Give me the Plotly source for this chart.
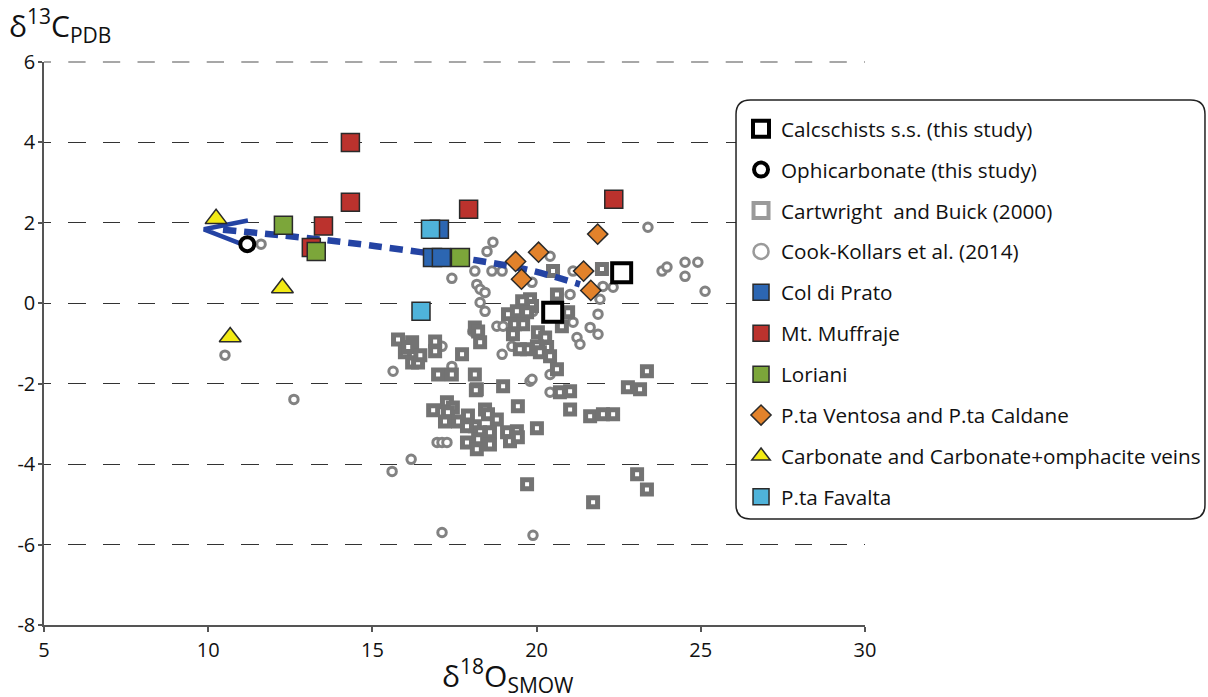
import plotly.graph_objects as go

# ---- data: delta18O (SMOW) and delta13C (PDB) ----
calc_x = [20.49, 22.59]
calc_y = [-0.22, 0.76]

ophi_x = [11.19]
ophi_y = [1.47]

cart_x = [20.50, 21.99, 20.62, 19.80, 19.56, 19.86, 19.13, 19.40, 19.71, 19.34,
          19.59, 19.28, 18.12, 18.22, 18.28, 15.78, 16.21, 16.91, 16.91, 17.73,
          15.99, 16.21, 16.39, 17.00, 17.42, 18.12, 18.18, 18.98, 20.04, 20.26,
          20.01, 20.32, 20.10, 20.41, 19.71, 19.49, 20.62, 21.02, 22.78, 23.15,
          23.36, 20.96, 20.77, 20.71, 16.85, 17.27, 17.45, 17.30, 17.21, 17.61,
          17.91, 19.43, 18.43, 18.52, 18.79, 18.12, 17.88, 18.28, 18.58, 19.10,
          19.40, 20.01, 17.88, 18.22, 18.18, 18.58, 19.19, 19.43, 19.71, 21.02,
          21.63, 22.02, 22.33, 23.06, 23.36, 21.72, 18.15, 16.09, 16.46]
cart_y = [0.80, 0.85, 0.22, 0.10, 0.05, -0.07, -0.27, -0.20, -0.22, -0.52,
          -0.52, -0.77, -0.60, -0.70, -0.97, -0.90, -0.97, -0.95, -1.19, -1.27,
          -1.22, -1.47, -1.47, -1.77, -1.77, -1.77, -2.14, -2.06, -0.72, -0.85,
          -1.07, -1.09, -1.22, -1.32, -1.14, -1.14, -1.64, -2.19, -2.09, -2.14,
          -1.69, -0.22, -0.57, -2.21, -2.66, -2.46, -2.59, -2.71, -2.94, -2.94,
          -2.79, -2.56, -2.64, -2.76, -2.89, -3.06, -3.06, -3.21, -3.21, -3.21,
          -3.18, -3.11, -3.46, -3.38, -3.63, -3.51, -3.43, -3.33, -4.50, -2.64,
          -2.81, -2.76, -2.76, -4.25, -4.63, -4.95, -2.16, -1.09, -1.29]

cook_x = [11.61, 10.51, 12.61, 15.63, 15.60, 16.18, 17.12, 19.89, 16.97, 17.12,
          17.27, 20.41, 19.80, 18.67, 18.49, 17.42, 18.12, 18.64, 18.95, 18.18,
          18.28, 18.43, 18.28, 18.43, 20.41, 19.86, 21.11, 21.02, 22.02, 22.33,
          21.93, 23.39, 23.82, 23.97, 24.52, 24.91, 24.52, 25.13, 21.11, 21.87,
          21.63, 21.87, 21.23, 21.32, 18.79, 18.98, 19.25, 18.06, 18.95, 19.25,
          19.86, 20.41, 17.42, 17.12, 19.89]
cook_y = [1.47, -1.29, -2.39, -1.69, -4.18, -3.88, -5.70, -5.77, -3.46, -3.46,
          -3.46, -2.21, -1.94, 1.52, 1.29, 0.62, 0.80, 0.80, 0.80, 0.47,
          0.35, 0.27, 0.02, -0.20, 1.17, 0.52, 0.80, 0.22, 0.42, 0.40,
          0.10, 1.89, 0.80, 0.90, 1.02, 1.02, 0.67, 0.30, -0.47, -0.27,
          -0.60, -0.77, -0.85, -1.02, -0.57, -0.57, -0.60, -0.70, -1.27, -1.07,
          -1.89, -1.77, -1.57, -1.07, -0.20]

prato_x = [17.04, 16.83, 17.10]
prato_y = [1.84, 1.14, 1.14]

muff_x = [14.33, 14.33, 13.51, 13.14, 17.93, 22.35]
muff_y = [4.00, 2.51, 1.92, 1.39, 2.34, 2.59]

lori_x = [12.29, 13.29, 17.68]
lori_y = [1.94, 1.29, 1.14]

vent_x = [19.36, 20.06, 19.54, 21.86, 21.43, 21.65]
vent_y = [1.04, 1.27, 0.60, 1.72, 0.80, 0.32]

vein_x = [10.24, 12.26, 10.67]
vein_y = [2.10, 0.38, -0.84]

fav_x = [16.77, 16.48]
fav_y = [1.84, -0.20]

# trend (dashed) and arrow head
trend_x = [10.45, 12.80, 15.11, 18.15, 19.80, 21.32]
trend_y = [1.83, 1.64, 1.42, 1.07, 0.82, 0.47]
arrow_x = [11.21, 9.87, 11.12]
arrow_y = [2.06, 1.84, 1.44]

x_ticks = [5, 10, 15, 20, 25, 30]
y_ticks = [-8, -6, -4, -2, 0, 2, 4, 6]
y_ticktext = ["-8", "-6", "-4", "-2", "0", "2", "4", "6"]

FONT = "Open Sans"
TXT = "#111111"
EDGE = "#2a2a2a"
GRID_DASH = "7px,17.3px,10.3px,0px"

fig = go.Figure()

# reference datasets (gray)
fig.add_trace(go.Scatter(
    x=cook_x, y=cook_y, mode="markers", name="Cook-Kollars et al. (2014)",
    legendgroup="g04", showlegend=False,
    marker=dict(symbol="circle", size=8.5, color="white",
                line=dict(color="#828282", width=3))))
fig.add_trace(go.Scatter(
    x=cart_x, y=cart_y, mode="markers", name="Cartwright  and Buick (2000)",
    legendgroup="g03", showlegend=False,
    marker=dict(symbol="square", size=9, color="white",
                line=dict(color="#737373", width=5))))

# trend line with arrow head
fig.add_trace(go.Scatter(
    x=trend_x, y=trend_y, mode="lines", showlegend=False, hoverinfo="skip",
    line=dict(color="#2443a3", width=6.5, dash="13px,8px", shape="spline")))
fig.add_trace(go.Scatter(
    x=arrow_x, y=arrow_y, mode="lines", showlegend=False, hoverinfo="skip",
    line=dict(color="#2443a3", width=4.5)))

def colored(xs, ys, name, rank, symbol, size, color):
    fig.add_trace(go.Scatter(
        x=xs, y=ys, mode="markers", name=name, legendgroup=f"g{rank:02d}",
        legendrank=rank,
        marker=dict(symbol=symbol, size=size, color=color,
                    line=dict(color=EDGE, width=1.5))))

colored(muff_x, muff_y, "Mt. Muffraje", 6, "square", 18, "#bb322d")
colored(lori_x, lori_y, "Loriani", 7, "square", 18, "#7ca63a")
colored(prato_x, prato_y, "Col di Prato", 5, "square", 18, "#2c66b2")
colored(fav_x, fav_y, "P.ta Favalta", 10, "square", 18, "#4fb3da")
colored(vent_x, vent_y, "P.ta Ventosa and P.ta Caldane", 8, "diamond", 15.5, "#e2822b")
colored(vein_x, vein_y, "Carbonate and Carbonate+omphacite veins", 9,
        "triangle-up", 19, "#f2ea15")

# this study
fig.add_trace(go.Scatter(
    x=calc_x, y=calc_y, mode="markers", name="Calcschists s.s. (this study)",
    legendgroup="g01", legendrank=1,
    marker=dict(symbol="square", size=19, color="white",
                line=dict(color="black", width=4))))
fig.add_trace(go.Scatter(
    x=ophi_x, y=ophi_y, mode="markers", name="Ophicarbonate (this study)",
    legendgroup="g02", legendrank=2,
    marker=dict(symbol="circle", size=14, color="white",
                line=dict(color="black", width=4))))

# legend entries for the gray datasets
fig.add_trace(go.Scatter(
    x=[None], y=[None], mode="markers", name="Cartwright  and Buick (2000)",
    legendgroup="g03", legendrank=3,
    marker=dict(symbol="square", size=15, color="white",
                line=dict(color="#9a9a9a", width=4))))
fig.add_trace(go.Scatter(
    x=[None], y=[None], mode="markers", name="Cook-Kollars et al. (2014)",
    legendgroup="g04", legendrank=4,
    marker=dict(symbol="circle", size=15, color="white",
                line=dict(color="#9a9a9a", width=2.5))))

# dashed gridline along the top edge of the plot area
fig.add_shape(type="line", xref="paper", yref="paper", x0=0, x1=1, y0=1, y1=1,
              line=dict(color="#8a8a8a", width=1.6, dash=GRID_DASH),
              layer="below")

# rounded legend frame (paper coordinates)
x0, x1 = 0.8429, 1.4141
y0, y1 = 0.1883, 0.9325
rx, ry = 0.0175, 0.0255
frame = (f"M{x0+rx},{y1} L{x1-rx},{y1} Q{x1},{y1} {x1},{y1-ry} "
         f"L{x1},{y0+ry} Q{x1},{y0} {x1-rx},{y0} L{x0+rx},{y0} "
         f"Q{x0},{y0} {x0},{y0+ry} L{x0},{y1-ry} Q{x0},{y1} {x0+rx},{y1} Z")
fig.add_shape(type="path", path=frame, xref="paper", yref="paper",
              fillcolor="white", line=dict(color="#222222", width=1.5),
              layer="above")

fig.add_annotation(text="δ<sup>13</sup>C<sub>PDB</sub>", xref="paper", yref="paper",
                   x=-0.045, y=1.11, xanchor="left", yanchor="top",
                   showarrow=False, font=dict(family=FONT, size=30, color=TXT))
fig.add_annotation(text="δ<sup>18</sup>O<sub>SMOW</sub>", xref="paper", yref="paper",
                   x=0.565, y=-0.045, xanchor="center", yanchor="top",
                   showarrow=False, font=dict(family=FONT, size=30, color=TXT))

fig.update_layout(
    width=1208, height=697,
    margin=dict(l=44, r=343, t=62, b=72, autoexpand=False),
    paper_bgcolor="white", plot_bgcolor="white",
    font=dict(family=FONT, color=TXT),
    showlegend=True,
    legend=dict(x=0.849, y=0.917, xanchor="left", yanchor="top",
                bgcolor="rgba(0,0,0,0)", borderwidth=0,
                font=dict(family=FONT, size=20.7, color=TXT),
                tracegroupgap=11, traceorder="grouped",
                itemsizing="trace"),
    xaxis=dict(range=[5, 30], tickvals=x_ticks, showgrid=False, zeroline=False,
               automargin=False,
               showline=True, linecolor="#555555", linewidth=1.5,
               ticks="outside", ticklen=5, tickcolor="#555555", tickwidth=1.5,
               tickfont=dict(family=FONT, size=20, color=TXT),
               ticklabelstandoff=1),
    yaxis=dict(range=[-8, 6], tickvals=y_ticks, ticktext=y_ticktext,
               automargin=False,
               showgrid=True, gridcolor="#333333", gridwidth=1.4,
               griddash=GRID_DASH, zeroline=False,
               showline=True, linecolor="#555555", linewidth=1.5,
               ticks="outside", ticklen=4, tickcolor="#555555", tickwidth=1.5,
               tickfont=dict(family=FONT, size=20, color=TXT),
               ticklabelstandoff=-1),
)

fig.write_html("out.html")
